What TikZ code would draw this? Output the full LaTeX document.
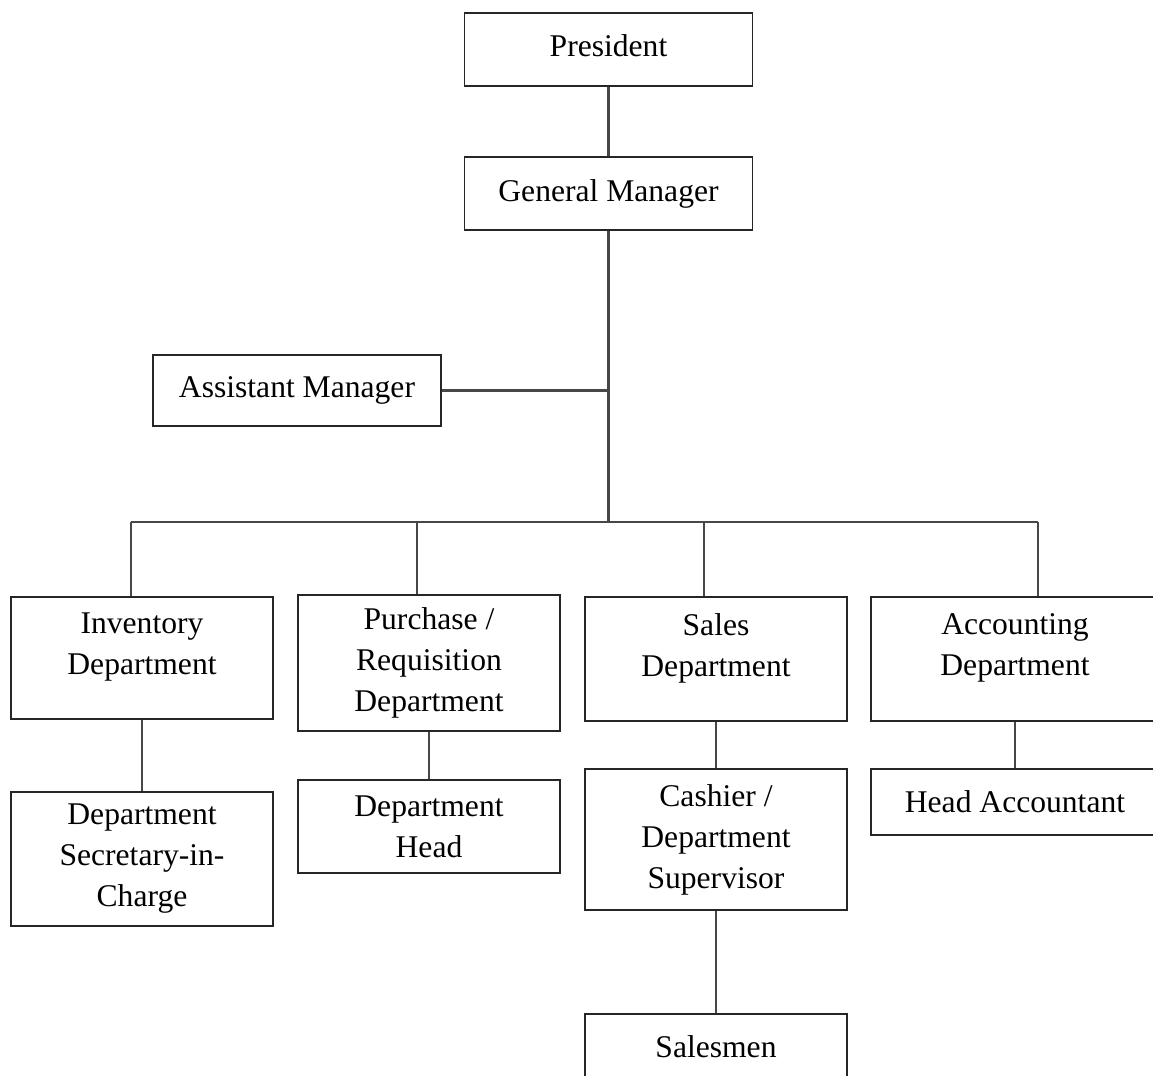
\documentclass[tikz,border=0pt]{standalone}
\usepackage{fontspec}
\setmainfont{Liberation Serif}
\usetikzlibrary{positioning, calc}

\begin{document}
\begin{tikzpicture}[
    x=0.5pt, y=-0.5pt,
    box/.style={draw=black!85, line width=0.9pt, align=center, inner sep=0pt,
                font=\fontsize{15.8}{20.5}\selectfont},
    wide/.style={box, minimum width=144pt},
    narrow/.style={box, minimum width=131pt},
    lift/.style={text depth=#1},
    link/.style={draw=black!72, line width=1.1pt}
  ]
  \clip (0,0) rectangle (1153,1076);
  \fill[white] (0,0) rectangle (1153,1076);

  \node[wide, minimum height=36.5pt, lift=4pt] (pres) at (608.5,49.5) {President};
  \node[wide, minimum height=36.5pt] (gm) at (608.5,193.5) {General Manager};
  \node[wide, minimum height=35.5pt] (asst) at (297,390.5) {Assistant Manager};

  % departments
  \node[narrow, minimum height=61pt, lift=14.6pt] (inv) at (142,658) {Inventory\\Department};
  \node[narrow, minimum height=68pt] (pur) at (429,663) {Purchase /\\Requisition\\Department};
  \node[narrow, minimum height=62pt, lift=14pt] (sales) at (716,659) {Sales\\Department};
  \node[wide, minimum height=62pt, lift=14pt] (acct) at (1015,659) {Accounting\\Department};

  % staff below
  \node[narrow, minimum height=67pt] (sec) at (142,859) {Department\\Secretary-in-\\Charge};
  \node[narrow, minimum height=46.5pt] (head) at (429,826.5) {Department\\Head};
  \node[narrow, minimum height=70.5pt] (cash) at (716,839.5) {Cashier /\\Department\\Supervisor};
  \node[narrow, minimum height=33pt] (men) at (716,1047) {Salesmen};
  \node[wide, minimum height=33pt] (hacc) at (1015,802) {Head Accountant};

  \coordinate (b1) at (131,522);
  \coordinate (b2) at (417,522);
  \coordinate (b3) at (704,522);
  \coordinate (b4) at (1038,522);

  \draw[link] (pres) -- (gm);
  \draw[link] (gm.south) -- (gm.south |- b1);
  \draw[link] (asst.east) -- (asst.east -| gm.south);
  \draw[link] (b1) -- (b4);
  \draw[link] (b1) -- (b1 |- inv.north);
  \draw[link] (b2) -- (b2 |- pur.north);
  \draw[link] (b3) -- (b3 |- sales.north);
  \draw[link] (b4) -- (b4 |- acct.north);

  \draw[link] (inv) -- (sec);
  \draw[link] (pur) -- (head);
  \draw[link] (sales) -- (cash);
  \draw[link] (cash) -- (men);
  \draw[link] (acct) -- (hacc);
\end{tikzpicture}
\end{document}
